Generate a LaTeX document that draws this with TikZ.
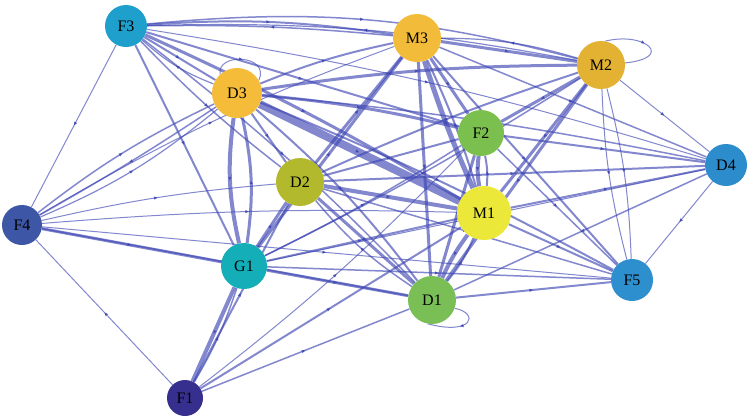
\documentclass[tikz,border=0pt]{standalone}
\usepackage{fontspec}
\setmainfont{Liberation Serif}
\usetikzlibrary{arrows.meta,decorations.markings}
\pgfdeclarelayer{bg}
\pgfsetlayers{bg,main}
\definecolor{ec}{HTML}{3F48B4}
\definecolor{cF3}{HTML}{1FA0CC}
\definecolor{cM3}{HTML}{F3BB3A}
\definecolor{cM2}{HTML}{E3B232}
\definecolor{cD3}{HTML}{F4BC38}
\definecolor{cF2}{HTML}{7BBF4F}
\definecolor{cD4}{HTML}{2D8CCC}
\definecolor{cD2}{HTML}{B3B92C}
\definecolor{cM1}{HTML}{EBE83A}
\definecolor{cF4}{HTML}{3D56A6}
\definecolor{cG1}{HTML}{14AEB8}
\definecolor{cF5}{HTML}{2E8FCF}
\definecolor{cD1}{HTML}{7ABF55}
\definecolor{cF1}{HTML}{372F8E}
\begin{document}
\begin{tikzpicture}[x=1pt,y=-1pt,
  nd/.style={circle,inner sep=0pt,minimum size=#1,font=\fontsize{16}{16}\selectfont},
  ed/.style={draw=ec,draw opacity=0.65,line width=#1,postaction={decorate},
    decoration={markings,mark=at position 0.5 with {\arrow[ec,opacity=0.8]{Latex[length=4pt,width=3.5pt]}}}},
  ed/.default=1pt]
\useasboundingbox (0,0) rectangle (751,416);
\node[nd=42, fill=cF3] (F3) at (126,26) {F3};
\node[nd=48, fill=cM3] (M3) at (417,38) {M3};
\node[nd=48, fill=cM2] (M2) at (601,65) {M2};
\node[nd=50, fill=cD3] (D3) at (237,93) {D3};
\node[nd=46, fill=cF2] (F2) at (481,133) {F2};
\node[nd=42, fill=cD4] (D4) at (726,165) {D4};
\node[nd=48, fill=cD2] (D2) at (300,182) {D2};
\node[nd=54, fill=cM1] (M1) at (484,213) {M1};
\node[nd=40, fill=cF4] (F4) at (22,225) {F4};
\node[nd=46, fill=cG1] (G1) at (244,266) {G1};
\node[nd=42, fill=cF5] (F5) at (632,280) {F5};
\node[nd=48, fill=cD1] (D1) at (432,300) {D1};
\node[nd=36, fill=cF1] (F1) at (185,398) {F1};
\begin{pgfonlayer}{bg}
\fill[white] (0,0) rectangle (751,416);
% F3
\draw[ed=2pt] (F3) to[bend left=6] (M3);
\draw[ed=1.5pt] (M3) to[bend right=3] (F3);
\draw[ed=1.5pt] (F3) to[bend left=10] (M2);
\draw[ed=1.2pt] (M2) to[bend right=6] (F3);
\draw[ed=2pt] (F3) to (D3);
\draw[ed=1.2pt] (D3) to[bend left=10] (F3);
\draw[ed=3pt] (F3) to[bend left=3] (M1);
\draw[ed=2pt] (F3) to (F2);
\draw[ed=1.5pt] (F3) to[bend right=4] (D2);
\draw[ed=2pt] (F3) to (G1);
\draw[ed=1pt] (F3) to (F4);
\draw[ed=1.5pt] (F3) to[bend left=4] (D1);
\draw[ed=1pt] (F3) to[bend left=4] (D4);
% D3
\draw[ed=1pt] (D3.132) .. controls +(-4,-22) and +(12,-26) .. (D3.30);
\draw[ed=4pt] (D3) to[bend right=10] (G1);
\draw[ed=3pt] (G1) to[bend right=10] (D3);
\draw[ed=2pt] (D3) to (D2);
\draw[ed=8pt] (D3) to (M1);
\draw[ed=3pt] (D3) to[bend left=4] (F2);
\draw[ed=2pt] (D3) to[bend left=5] (M3);
\draw[ed=3pt] (D3) to[bend left=4] (M2);
\draw[ed=1.5pt] (D3) to[bend left=3] (D4);
\draw[ed=2pt] (D3) to[bend left=3] (F5);
\draw[ed=2pt] (D3) to[bend left=6] (D1);
\draw[ed=1.5pt] (F4) to[bend left=6] (D3);
\draw[ed=1.5pt] (D3) to[bend left=2] (F4);
\draw[ed=1.2pt] (F4) to[bend right=8] (D3);
% F4
\draw[ed=3pt] (F4) to (G1);
\draw[ed=1.5pt] (F4) to (D1);
\draw[ed=1pt] (F4) to (F5);
\draw[ed=1pt] (F1) to (F4);
\draw[ed=1pt] (F4) to[bend left=4] (D2);
\draw[ed=1pt] (F4) to[bend left=3] (M1);
\draw[ed=1pt] (F4) to[bend left=5] (M3);
% G1
\draw[ed=4pt] (G1) to (F1);
\draw[ed=1.5pt] (F1) to[bend right=6] (G1);
\draw[ed=3pt] (G1) to (D1);
\draw[ed=2pt] (G1) to (M1);
\draw[ed=1.5pt] (G1) to[bend right=3] (F2);
\draw[ed=3pt] (G1) to (M3);
\draw[ed=1.5pt] (G1) to[bend right=3] (M2);
\draw[ed=1pt] (G1) to (D4);
\draw[ed=1.5pt] (G1) to (F5);
\draw[ed=3pt] (G1) to (D2);
% F1
\draw[ed=2pt] (F1) to (D2);
\draw[ed=1.5pt] (F1) to (D1);
\draw[ed=2pt] (F1) to (M1);
\draw[ed=1pt] (F1) to[bend right=4] (F2);
% D2
\draw[ed=3pt] (D2) to (M3);
\draw[ed=2pt] (D2) to[bend left=3] (M2);
\draw[ed=2pt] (D2) to (F2);
\draw[ed=4pt] (D2) to (M1);
\draw[ed=2pt] (D2) to (D4);
\draw[ed=1.5pt] (D2) to (F5);
\draw[ed=3pt] (D2) to (D1);
\draw[ed=1.5pt] (D1) to[bend left=8] (D2);
% M3
\draw[ed=3pt] (M3) to (M2);
\draw[ed=1.2pt] (M2) to[bend right=8] (M3);
\draw[ed=3pt] (M3) to (F2);
\draw[ed=5pt] (M3) to[bend right=3] (M1);
\draw[ed=2pt] (M1) to[bend right=4] (M3);
\draw[ed=3pt] (M3) to (D1);
\draw[ed=1.5pt] (M3) to (D4);
\draw[ed=2pt] (M3) to (F5);
% M2
\draw[ed=3pt] (M2) to (F2);
\draw[ed=3pt] (M2) to (M1);
\draw[ed=3pt] (M2) to (D1);
\draw[ed=1pt] (M2) to (D4);
\draw[ed=1pt] (M2) to[bend left=6] (F5);
\draw[ed=1pt] (M2) to[bend right=6] (F5);
\draw[ed=1pt] (M2.80) .. controls +(40,-10) and +(50,-5) .. (M2.5);
% F2
\draw[ed=4pt] (F2) to[bend right=8] (M1);
\draw[ed=2pt] (M1) to[bend right=8] (F2);
\draw[ed=3pt] (F2) to (D1);
\draw[ed=2pt] (F2) to (D4);
\draw[ed=1.5pt] (F2) to (F5);
% M1
\draw[ed=4pt] (M1) to[bend right=6] (D1);
\draw[ed=2pt] (D1) to[bend right=8] (M1);
\draw[ed=2pt] (M1) to (D4);
\draw[ed=2pt] (M1) to (F5);
% others
\draw[ed=1pt] (D4) to (F5);
\draw[ed=1.5pt] (D4) to (D1);
\draw[ed=2pt] (D1) to (F5);
\draw[ed=1pt] (D1.-20) .. controls +(25,5) and +(45,12) .. (D1.-100);
\end{pgfonlayer}
\end{tikzpicture}
\end{document}
